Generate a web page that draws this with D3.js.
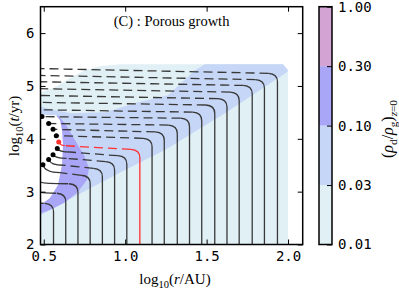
<!DOCTYPE html>
<html>
<head>
<meta charset="utf-8">
<script src="https://cdn.jsdelivr.net/npm/d3@7"></script>
<style>
  body { margin: 0; background: #fff; }
  svg { display: block; }
  .tick-label { font-family: "DejaVu Sans Mono", monospace; font-size: 14px; fill: #000; }
  .serif { font-family: "Liberation Serif", "DejaVu Serif", serif; fill: #000; }
</style>
</head>
<body>
<div id="chart"></div>
<script>
// axis ticks
const xTicks = [0.5, 1.0, 1.5, 2.0];
const yTicks = [2, 3, 4, 5, 6];
const cbLevels = ['0.01', '0.03', '0.10', '0.30', '1.00'];

// dust trajectories, outer to inner: start radius log10(r/AU), bend time log10(t/yr)
const startR = [1.935, 1.855, 1.78, 1.70, 1.625, 1.55, 1.47, 1.395, 1.32, 1.24,
  1.165, 1.09, 1.01, 0.935, 0.86, 0.785, 0.71, 0.635, 0.56];
const bendT = [5.22, 5.10, 4.99, 4.865, 4.74, 4.62, 4.485, 4.37, 4.24, 4.11,
  3.99, 3.78, 3.66, 3.55, 3.42, 3.29, 3.13, 2.95, 2.76];
// end of the dashed (drifting) part
const driftR = [0.47, 0.47, 0.47, 0.47, 0.47, 0.47, 0.47, 0.489, 0.530, 0.557,
  0.577, 0.63, 0.66, 0.64, 0.62, 0.60, 0.65, 0.575, 0.50];
const driftT = [5.33, 5.20, 5.08, 4.95, 4.82, 4.69, 4.55, 4.42, 4.29, 4.18,
  4.06, 3.87, 3.75, 3.63, 3.50, 3.36, 3.15, 2.97, 2.78];
// end of the solid tail (null = none)
const tailR = [null, null, null, null, null, null, null, null, null, null,
  null, 0.592, 0.583, 0.557, 0.530, 0.495, 0.47, 0.47, 0.47];
const tailT = [null, null, null, null, null, null, null, null, null, null,
  null, 3.94, 3.815, 3.70, 3.61, 3.51, 3.19, 3.00, 2.80];
const hasDot = [0, 0, 0, 0, 0, 0, 0, 1, 1, 1, 1, 1, 1, 1, 1, 1, 0, 0, 0];
const redTrack = 11;

// filled contour boundaries of (rho_d/rho_g)_{z=0}
const level01 = [[0.47, 4.864], [0.569, 4.977], [0.661, 5.147], [0.753, 5.298],
  [0.845, 5.374], [0.968, 5.412], [1.969, 5.412], [2.0, 5.298], [2.0, 1.98], [0.47, 1.98]];
const level03 = [[0.47, 4.618], [0.569, 4.542], [0.667, 4.485], [0.876, 4.504],
  [1.079, 4.693], [1.263, 4.826], [1.349, 5.072], [1.428, 5.298], [1.49, 5.412],
  [1.969, 5.412], [2.0, 5.298], [1.993, 5.26], [1.613, 4.486], [1.244, 3.786],
  [0.999, 3.408], [0.753, 3.011], [0.47, 2.539]];
const level10 = [[0.587, 4.448], [0.637, 4.259], [0.692, 3.975], [0.747, 3.692],
  [0.778, 3.446], [0.765, 3.219], [0.71, 2.992], [0.624, 2.784], [0.538, 2.652],
  [0.47, 2.577], [0.47, 3.786], [0.538, 4.353]];
const emptyZone = [[0.47, 4.467], [0.538, 4.448], [0.575, 4.448], [0.60, 4.353],
  [0.612, 4.164], [0.618, 3.881], [0.612, 3.503], [0.587, 3.125], [0.538, 2.879],
  [0.47, 2.728]];

const cbColors = ['#e0f0f4', '#c6d6f6', '#a9a5f7', '#d3a3d3'];
const lineColor = '#383838';
const redColor = '#ff3030';

const x = d3.scaleLinear().domain([0.48, 2.09]).range([40.5, 302.7]);
const y = d3.scaleLinear().domain([2, 6.5]).range([244.5, 6.7]);

const svg = d3.select('#chart').append('svg').attr('width', 399).attr('height', 292);

svg.append('defs').append('clipPath').attr('id', 'clip')
  .append('rect')
  .attr('x', x.range()[0]).attr('y', y.range()[1])
  .attr('width', x.range()[1] - x.range()[0])
  .attr('height', y.range()[0] - y.range()[1]);

const plot = svg.append('g').attr('clip-path', 'url(#clip)');

const area = d3.line().x((d) => x(d[0])).y((d) => y(d[1])).curve(d3.curveLinearClosed);

plot.append('path').attr('d', area(level01)).attr('fill', cbColors[0]);
plot.append('path').attr('d', area(level03)).attr('fill', cbColors[1]);
plot.append('path').attr('d', area(level10)).attr('fill', cbColors[2]);
plot.append('path').attr('d', area(emptyZone)).attr('fill', '#fff');

const tracks = plot.append('g').attr('fill', 'none').attr('stroke-width', 1.3);

startR.forEach((r0, i) => {
  const color = i === redTrack ? redColor : lineColor;
  const tb = bendT[i];
  const exitR = r0 - 0.055;
  const exitT = tb + 0.02;

  const solid = d3.path();
  solid.moveTo(x(r0), y(2));
  solid.lineTo(x(r0), y(tb - 0.14));
  solid.quadraticCurveTo(x(r0), y(tb + 0.01), x(exitR), y(exitT));
  tracks.append('path').attr('d', solid.toString()).attr('stroke', color);

  if (driftR[i] < exitR - 0.01) {
    const dashed = d3.path();
    dashed.moveTo(x(exitR), y(exitT));
    dashed.lineTo(x(driftR[i]), y(driftT[i]));
    tracks.append('path').attr('d', dashed.toString())
      .attr('stroke', color).attr('stroke-dasharray', '9,5');
  }

  if (tailR[i] !== null) {
    const tail = d3.path();
    tail.moveTo(x(driftR[i]), y(driftT[i]));
    tail.quadraticCurveTo(x(tailR[i] + 0.012), y(driftT[i]), x(tailR[i]), y(tailT[i]));
    tracks.append('path').attr('d', tail.toString()).attr('stroke', color);
  }

  if (hasDot[i]) {
    const dr = tailR[i] !== null ? tailR[i] : driftR[i];
    const dt = tailT[i] !== null ? tailT[i] : driftT[i];
    plot.append('circle')
      .attr('cx', x(dr)).attr('cy', y(dt)).attr('r', 2.5)
      .attr('fill', i === redTrack ? redColor : '#000');
  }
});

// axes, ticks pointing inward
const styleAxis = (g) => {
  g.select('.domain').remove();
  g.selectAll('text').attr('class', 'tick-label');
  g.selectAll('line').attr('stroke', '#000');
};

svg.append('g')
  .attr('transform', `translate(0,${y.range()[0]})`)
  .call(d3.axisBottom(x).tickValues(xTicks).tickSize(-5).tickPadding(7).tickFormat(d3.format('.1f')))
  .call(styleAxis);

svg.append('g')
  .attr('transform', `translate(0,${y.range()[1]})`)
  .call(d3.axisTop(x).tickValues(xTicks).tickSize(-5).tickFormat(''))
  .call(styleAxis);

svg.append('g')
  .attr('transform', `translate(${x.range()[0]},0)`)
  .call(d3.axisLeft(y).tickValues(yTicks).tickSize(-5).tickPadding(6).tickFormat(d3.format('d')))
  .call(styleAxis);

svg.append('g')
  .attr('transform', `translate(${x.range()[1]},0)`)
  .call(d3.axisRight(y).tickValues(yTicks).tickSize(-5).tickFormat(''))
  .call(styleAxis);

svg.append('rect')
  .attr('x', x.range()[0]).attr('y', y.range()[1])
  .attr('width', x.range()[1] - x.range()[0])
  .attr('height', y.range()[0] - y.range()[1])
  .attr('fill', 'none').attr('stroke', '#000').attr('stroke-width', 1.5);

// math-like labels built from tspans
const mathText = (sel, parts, size) => {
  let shift = 0;
  parts.forEach((p) => {
    const target = p.sub ? size * 0.28 : 0;
    const ts = sel.append('tspan')
      .attr('dy', target - shift)
      .attr('font-size', p.sub ? size * 0.7 : size)
      .text(p.t);
    if (p.it) ts.attr('font-style', 'italic');
    shift = target;
  });
};

svg.append('text').attr('class', 'serif')
  .attr('x', (x.range()[0] + x.range()[1]) / 2).attr('y', 25.5)
  .attr('text-anchor', 'middle').attr('font-size', 14.5)
  .text('(C) : Porous growth');

const xLabel = svg.append('text').attr('class', 'serif')
  .attr('x', 175).attr('y', 284).attr('text-anchor', 'middle');
mathText(xLabel, [{ t: 'log' }, { t: '10', sub: true }, { t: '(' }, { t: 'r', it: true }, { t: '/AU)' }], 15);

const yLabel = svg.append('text').attr('class', 'serif')
  .attr('transform', 'translate(19,126) rotate(-90)').attr('text-anchor', 'middle');
mathText(yLabel, [{ t: 'log' }, { t: '10', sub: true }, { t: '(' }, { t: 't', it: true }, { t: '/yr)' }], 15);

// colorbar
const cbX0 = 319;
const cbX1 = 332;
const cbY = d3.scalePoint().domain(cbLevels).range([y.range()[0], y.range()[1]]);

const cb = svg.append('g');
cb.selectAll('rect')
  .data(d3.pairs(cbLevels))
  .join('rect')
  .attr('x', cbX0)
  .attr('y', (d) => cbY(d[1]))
  .attr('width', cbX1 - cbX0)
  .attr('height', (d) => cbY(d[0]) - cbY(d[1]))
  .attr('fill', (_, i) => cbColors[i]);

cb.append('g')
  .attr('transform', `translate(${cbX1},0)`)
  .call(d3.axisRight(cbY).tickSize(-5).tickPadding(6))
  .call(styleAxis);

cb.append('rect')
  .attr('x', cbX0).attr('y', y.range()[1])
  .attr('width', cbX1 - cbX0).attr('height', y.range()[0] - y.range()[1])
  .attr('fill', 'none').attr('stroke', '#000').attr('stroke-width', 1.5);

const cbLabel = svg.append('text').attr('class', 'serif')
  .attr('transform', 'translate(393,129) rotate(-90)').attr('text-anchor', 'middle');
mathText(cbLabel, [{ t: '(' }, { t: 'ρ', it: true }, { t: 'd', sub: true }, { t: '/' },
  { t: 'ρ', it: true }, { t: 'g', sub: true }, { t: ')' }, { t: 'z', sub: true, it: true },
  { t: '=0', sub: true }], 16);
</script>
</body>
</html>
